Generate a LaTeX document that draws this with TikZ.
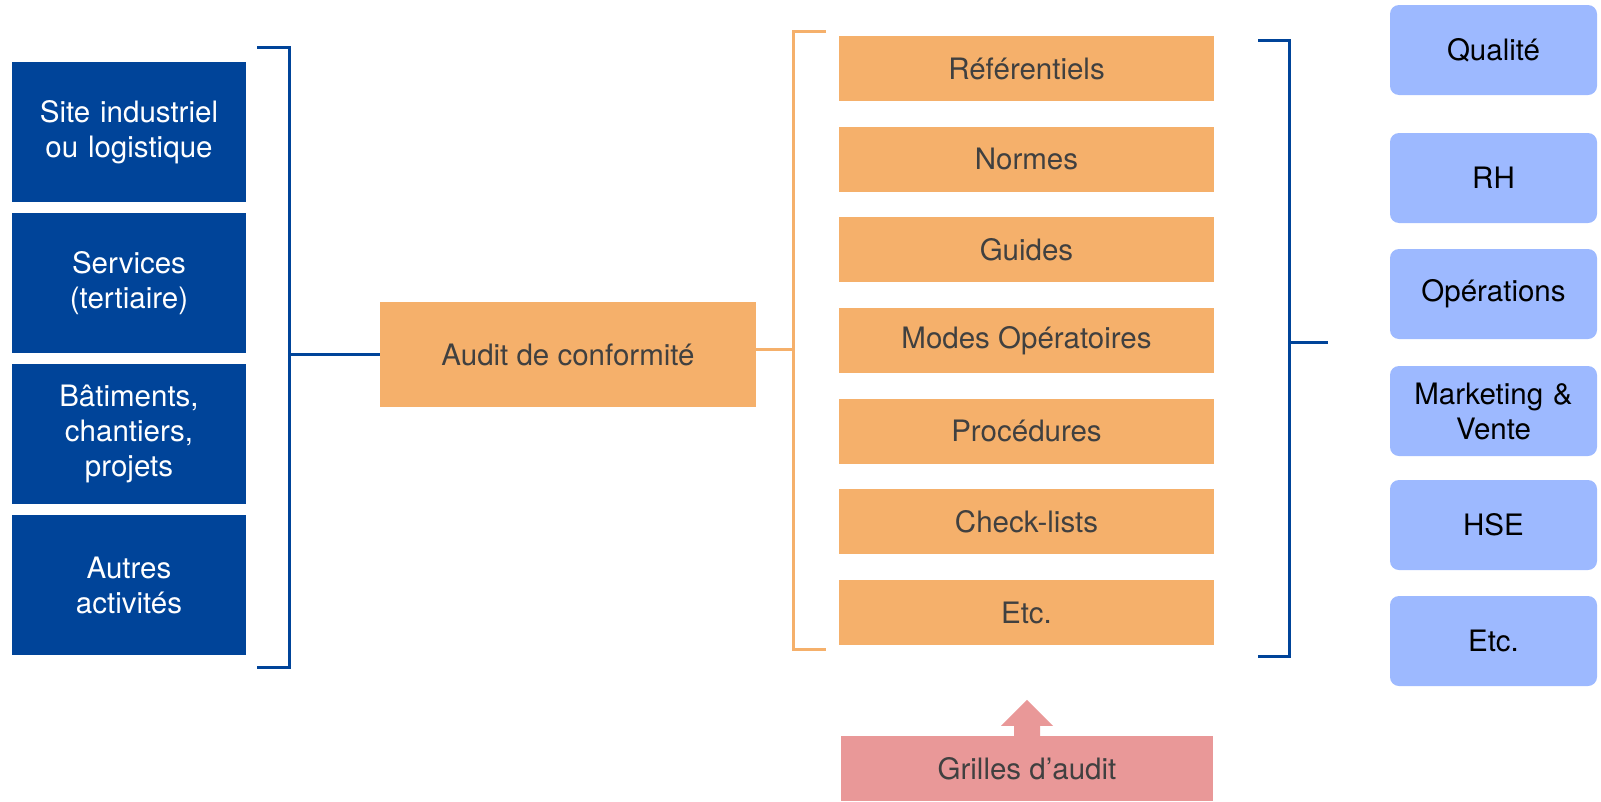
\documentclass[tikz,border=0pt]{standalone}
\usepackage{fontspec}
\setmainfont{TeX Gyre Heros}
\usetikzlibrary{shapes,arrows}
\definecolor{darkblue}{RGB}{0,68,153}
\definecolor{paleorange}{RGB}{245,176,107}
\definecolor{lightblue}{RGB}{157,185,255}
\definecolor{palered}{RGB}{233,152,152}
\definecolor{textgray}{RGB}{64,64,64}
\newcommand{\boxfont}{\fontsize{29.5}{35}\selectfont}
\tikzstyle{sitebox} = [rectangle, minimum width=234pt, minimum height=140pt, text width=220pt, inner sep=0pt, text centered, fill=darkblue, text=white, font=\boxfont]
\tikzstyle{auditbox} = [rectangle, minimum width=376pt, minimum height=105pt, inner sep=0pt, text centered, fill=paleorange, text=textgray, font=\boxfont]
\tikzstyle{refbox} = [rectangle, node distance=90.67pt, minimum width=375pt, minimum height=65pt, inner sep=0pt, text centered, fill=paleorange, text=textgray, font=\boxfont]
\tikzstyle{deptbox} = [rectangle, rounded corners=9pt, minimum width=207pt, minimum height=90pt, text width=195pt, inner sep=0pt, text centered, fill=lightblue, text=black, font=\boxfont]
\tikzstyle{gridbox} = [rectangle, minimum width=372pt, minimum height=65pt, inner sep=0pt, text centered, fill=palered, text=textgray, font=\boxfont]
\tikzstyle{bluebracket} = [line width=3pt, draw=darkblue]
\tikzstyle{orangebracket} = [line width=3pt, draw=paleorange]
\tikzstyle{gridarrow} = [fill=palered]

\begin{document}
\begin{tikzpicture}[x=1pt, y=-1pt, node distance=151pt]
        \useasboundingbox (0,0) rectangle (1601,801);
        % activites
        \node (site) [sitebox] at (129,132) {Site industriel\\ou logistique};
        \node (tert) [sitebox, below of=site] {Services\\(tertiaire)};
        \node (bat) [sitebox, below of=tert] {Bâtiments,\\chantiers,\\projets};
        \node (autres) [sitebox, below of=bat] {Autres\\activités};
        \node (audit) [auditbox] at (568,354.5) {Audit de conformité};
        % documents
        \node (ref) [refbox] at (1026.5,68.5) {Référentiels};
        \node (norm) [refbox, below of=ref] {Normes};
        \node (guide) [refbox, below of=norm] {Guides};
        \node (modes) [refbox, below of=guide] {Modes Opératoires};
        \node (proc) [refbox, below of=modes] {Procédures};
        \node (check) [refbox, below of=proc] {Check-lists};
        \node (etc) [refbox, below of=check] {Etc.};
        \node (grille) [gridbox] at (1027,768.5) {Grilles d’audit};
        % services
        \node (qual) [deptbox] at (1493.5,50) {Qualité};
        \node (rh) [deptbox] at (1493.5,178) {RH};
        \node (ops) [deptbox] at (1493.5,294) {Opérations};
        \node (mkt) [deptbox] at (1493.5,411) {Marketing \&\\Vente};
        \node (hse) [deptbox] at (1493.5,525) {HSE};
        \node (etc2) [deptbox] at (1493.5,641) {Etc.};
        % accolades
        \coordinate (lbtop) at (257,47);
        \coordinate (lbjoin) at (289,354.5);
        \draw [bluebracket] (lbtop) -- ++(32,0) -- ++(0,620) -- ++(-32,0);
        \draw [bluebracket] (lbjoin) -- (audit.west);
        \coordinate (obtop) at (826,31);
        \coordinate (objoin) at (793,349.5);
        \draw [orangebracket] (obtop) -- ++(-33,0) -- ++(0,618) -- ++(33,0);
        \draw [orangebracket] ([yshift=5pt]audit.east) -- (objoin);
        \coordinate (rbtop) at (1258,40);
        \coordinate (rbjoin) at (1289,342);
        \coordinate (rbend) at (1328,342);
        \draw [bluebracket] (rbtop) -- ++(31,0) -- ++(0,616) -- ++(-31,0);
        \draw [bluebracket] (rbjoin) -- (rbend);
        \fill [gridarrow] (grille.north) ++(-13,0) -- ++(0,-10) -- ++(-13,0) -- ++(26,-26) -- ++(26,26) -- ++(-13,0) -- ++(0,10) -- cycle;
        \end{tikzpicture}
\end{document}
